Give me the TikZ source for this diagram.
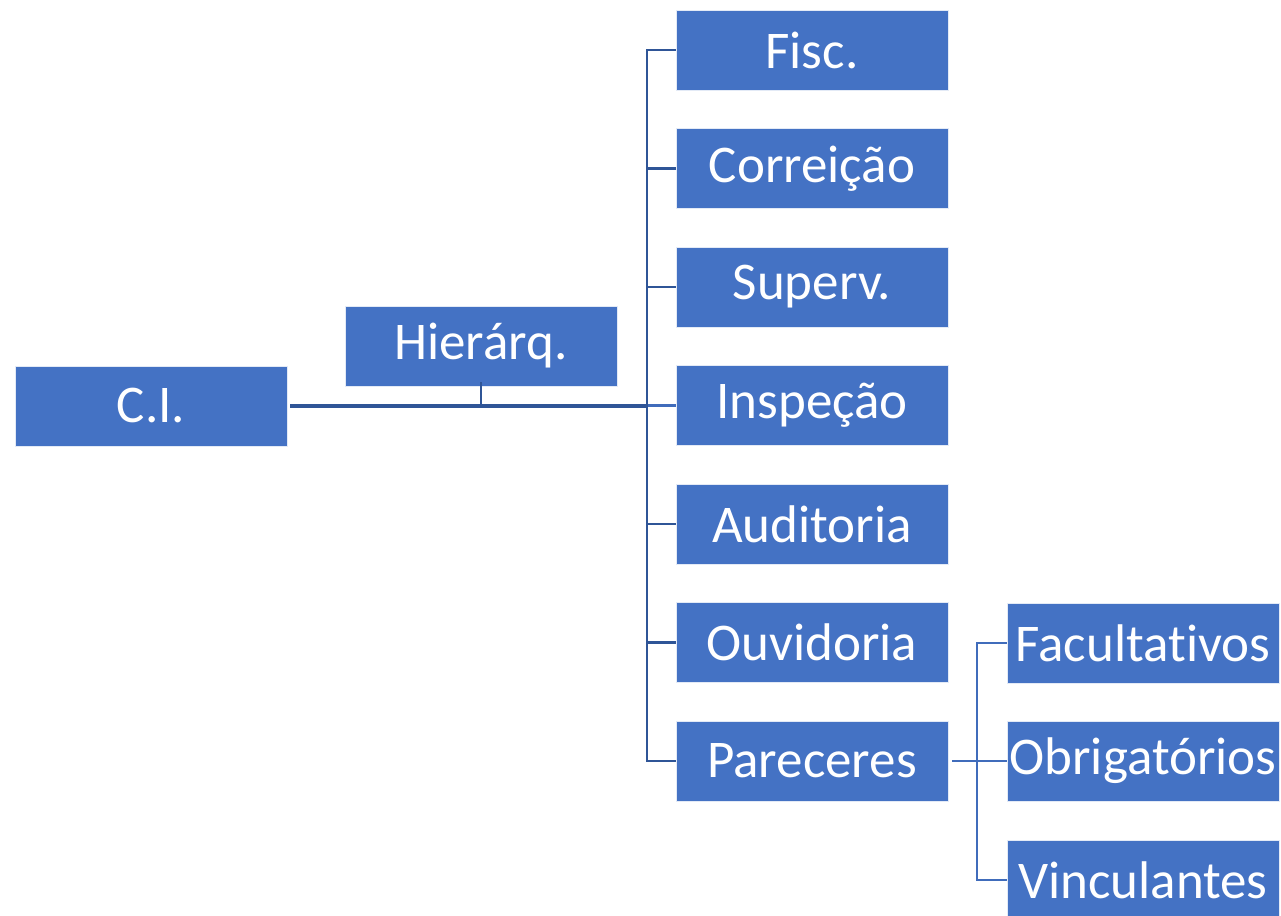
\documentclass[tikz,border=0pt]{standalone}
\usepackage{fontspec}
\setmainfont[RawFeature={-liga;-clig;-calt;-dlig}]{Carlito}
\definecolor{boxblue}{HTML}{4472C4}
\definecolor{linedark}{HTML}{2F5597}
\begin{document}
\begin{tikzpicture}[x=1pt,y=-1pt,
  box/.style={fill=boxblue,draw=white!85!boxblue,line width=0.8pt,minimum width=272pt,minimum height=80pt,inner sep=0pt,text=white,font=\fontsize{53}{60}\selectfont},
  mainline/.style={draw=linedark,line width=3.5pt},
  trunk/.style={draw=linedark,line width=2.5pt},
  sub/.style={draw=boxblue!80!linedark,line width=2.5pt}]
\useasboundingbox (0,0) rectangle (1281,915);
\node[box] (ci) at (151,406) {C.I.};
\node[box] (hier) at (481,346) {Hierárq.};
\node[box] (fisc) at (812,50) {Fisc.};
\node[box] (corr) at (812,168.5) {Correição};
\node[box] (sup) at (812,287) {Superv.};
\node[box] (insp) at (812,405.5) {Inspeção};
\node[box] (aud) at (812,524) {Auditoria};
\node[box] (ouv) at (812,642.5) {Ouvidoria};
\node[box] (par) at (812,761) {Pareceres};
\node[box] (fac) at (1143,643) {Facultat\kern0pt ivos};
\node[box] (obr) at (1143,761) {Obrigatórios};
\node[box] (vin) at (1143,880) {Vinculantes};
\coordinate (tk) at (647,0);
\coordinate (tk2) at (977,0);
% main line
\draw[mainline] ([xshift=3pt]ci.east) -- (tk |- ci.east);
\draw[sub] (tk |- insp.west) -- (insp.west);
\draw[linedark,line width=2.5pt] ([yshift=4pt]hier.south) -- (hier.south |- ci.east);
% trunk
\draw[trunk] (fisc.west) -- (tk |- fisc.west) -- (tk |- par.west) -- (par.west);
\foreach \n in {corr,sup,aud,ouv}{\draw[trunk] (tk |- \n.west) -- (\n.west);}
% right bracket
\draw[sub] ([xshift=4pt]par.east) -- (obr.west);
\draw[sub] (fac.west) -- (tk2 |- fac.west) -- (tk2 |- vin.west) -- (vin.west);
\end{tikzpicture}
\end{document}
